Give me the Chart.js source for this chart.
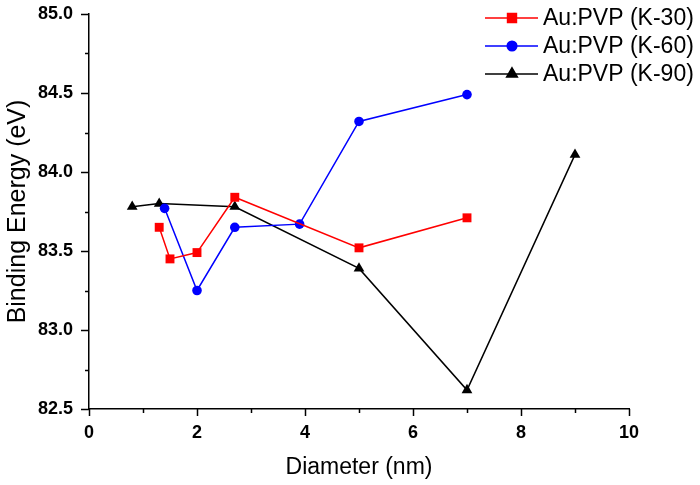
<!doctype html>
<html lang="en">
<head>
  <meta charset="utf-8" />
  <title>Binding Energy vs Diameter</title>
  <script src="https://cdn.jsdelivr.net/npm/chart.js@4.4.3/dist/chart.umd.min.js"></script>
  <style>
    html, body { margin: 0; padding: 0; background: #fff; }
    #wrap { width: 700px; height: 485px; }
  </style>
</head>
<body>
  <div id="wrap"><canvas id="chart"></canvas></div>
  <script>
    // values
    const k30X = [1.3, 1.5, 2.0, 2.7, 5.0, 7.0];
    const k30Y = [83.65, 83.45, 83.49, 83.84, 83.52, 83.71];
    const k60X = [1.4, 2.0, 2.7, 3.9, 5.0, 7.0];
    const k60Y = [83.77, 83.25, 83.65, 83.67, 84.32, 84.49];
    const k90X = [0.8, 1.3, 2.7, 5.0, 7.0, 9.0];
    const k90Y = [83.78, 83.80, 83.78, 83.39, 82.62, 84.11];
    const seriesNames = ["Au:PVP (K-30)", "Au:PVP (K-60)", "Au:PVP (K-90)"];
    const xTicks = [0, 2, 4, 6, 8, 10];
    const yTicks = [82.5, 83.0, 83.5, 84.0, 84.5, 85.0];

    const font = "'Liberation Sans', Arial, sans-serif";
    const pts = (xs, ys) => xs.map((x, i) => ({ x, y: ys[i] }));

    const series = [
      { label: seriesNames[0], data: pts(k30X, k30Y), color: "#ff0000", style: "rect", radius: 6.3 },
      { label: seriesNames[1], data: pts(k60X, k60Y), color: "#0000ff", style: "circle", radius: 4.8 },
      { label: seriesNames[2], data: pts(k90X, k90Y), color: "#000000", style: "triangle", radius: 6.2 },
    ];

    // outward major/minor ticks plus a legend with line + marker
    const decor = {
      id: "decor",
      afterDraw(chart) {
        const ctx = chart.ctx;
        const xs = chart.scales.x;
        const ys = chart.scales.y;
        const area = chart.chartArea;
        ctx.save();
        ctx.strokeStyle = "#000";
        ctx.lineWidth = 1.5;
        for (let v = 0; v <= 10; v += 1) {
          const px = Math.round(xs.getPixelForValue(v)) + 0.5;
          const len = v % 2 === 0 ? 7 : 4;
          ctx.beginPath();
          ctx.moveTo(px, area.bottom);
          ctx.lineTo(px, area.bottom + len);
          ctx.stroke();
        }
        for (let i = 0; i <= 10; i += 1) {
          const v = 82.5 + i * 0.25;
          const py = Math.round(ys.getPixelForValue(v)) + 0.5;
          const len = i % 2 === 0 ? 8 : 4;
          ctx.beginPath();
          ctx.moveTo(area.left, py);
          ctx.lineTo(area.left - len, py);
          ctx.stroke();
        }

        ctx.font = "23px " + font;
        ctx.textBaseline = "middle";
        ctx.textAlign = "left";
        series.forEach((s, i) => {
          const y = 18 + i * 28;
          ctx.strokeStyle = s.color;
          ctx.lineWidth = 1.5;
          ctx.beginPath();
          ctx.moveTo(485, y);
          ctx.lineTo(538, y);
          ctx.stroke();
          Chart.helpers.drawPoint(ctx, {
            pointStyle: s.style, radius: s.radius, rotation: 0, borderWidth: 1,
          }, 512, y);
          ctx.fillStyle = s.color;
          ctx.fill();
          ctx.fillStyle = "#000";
          ctx.fillText(s.label, 543, y + 1);
        });
        ctx.restore();
      },
    };

    new Chart(document.getElementById("chart"), {
      type: "line",
      data: {
        datasets: series.map((s) => ({
          label: s.label,
          data: s.data,
          borderColor: s.color,
          backgroundColor: s.color,
          borderWidth: 1.5,
          pointStyle: s.style,
          pointRadius: s.radius,
          pointBorderWidth: 0,
          tension: 0,
        })),
      },
      options: {
        responsive: true,
        maintainAspectRatio: false,
        animation: false,
        layout: { padding: { top: 14, right: 71, left: 0, bottom: 0 } },
        plugins: { legend: { display: false }, tooltip: { enabled: false } },
        scales: {
          x: {
            type: "linear",
            min: 0,
            max: 10,
            afterBuildTicks: (scale) => { scale.ticks = xTicks.map((v) => ({ value: v })); },
            afterFit: (scale) => {
              scale.height = 76;
              scale.paddingLeft = 0;
              scale.paddingRight = 0;
            },
            grid: { display: false, drawTicks: false },
            border: { display: true, color: "#000", width: 1.5 },
            ticks: {
              padding: 13,
              color: "#000",
              font: { family: font, size: 18, weight: "bold" },
              callback: (v) => String(v),
            },
            title: {
              display: true,
              text: "Diameter (nm)",
              color: "#000",
              font: { family: font, size: 23 },
              padding: { top: 4, bottom: 4 },
            },
          },
          y: {
            type: "linear",
            min: 82.5,
            max: 85.0,
            afterBuildTicks: (scale) => { scale.ticks = yTicks.map((v) => ({ value: v })); },
            afterFit: (scale) => {
              scale.width = 89;
              scale.paddingTop = 0;
              scale.paddingBottom = 0;
            },
            grid: { display: false, drawTicks: false },
            border: { display: true, color: "#000", width: 1.5 },
            ticks: {
              padding: 16,
              color: "#000",
              font: { family: font, size: 18, weight: "bold" },
              callback: (v) => v.toFixed(1),
            },
            title: {
              display: true,
              text: "Binding Energy (eV)",
              color: "#000",
              font: { family: font, size: 25 },
              padding: { top: 3, bottom: 0 },
            },
          },
        },
      },
      plugins: [decor],
    });
  </script>
</body>
</html>
